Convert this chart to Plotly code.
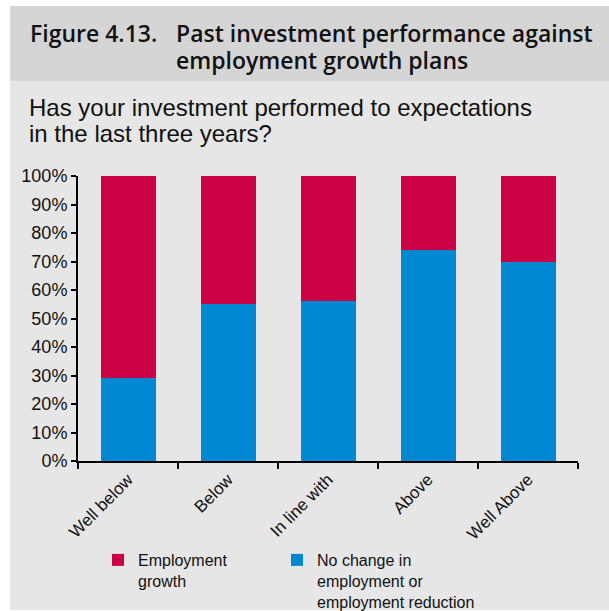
import plotly.graph_objects as go

# Survey answers (x categories) and the share of firms in each employment plan group
categories = ["Well below", "Below", "In line with", "Above", "Well Above"]
no_change_or_reduction = [29, 55, 56, 74, 70]
employment_growth = [71, 45, 44, 26, 30]

y_tick_values = [0, 10, 20, 30, 40, 50, 60, 70, 80, 90, 100]
y_tick_labels = [f"{v}%" for v in y_tick_values]

RED = "#CC0044"
BLUE = "#0089D2"
PANEL = "#E6E6E6"
BAND = "#D5D5D5"
TEXT = "#111111"

W, H = 609, 611
L, R, T, B = 78, 31, 176, 150
PW, PH = W - L - R, H - T - B


def px_x(x):
    return (x - L) / PW


def px_y(y):
    return (H - B - y) / PH


fig = go.Figure()
fig.add_trace(go.Bar(
    x=categories, y=no_change_or_reduction,
    name="No change in<br>employment or<br>employment reduction",
    marker=dict(color=BLUE, line=dict(width=0)),
    legend="legend2",
))
fig.add_trace(go.Bar(
    x=categories, y=employment_growth,
    name="Employment<br>growth",
    marker=dict(color=RED, line=dict(width=0)),
    legend="legend",
))

shapes = [
    # light grey panel behind everything
    dict(type="rect", xref="paper", yref="paper", layer="below",
         x0=px_x(10), x1=px_x(W + 2), y0=px_y(610), y1=px_y(6),
         fillcolor=PANEL, line=dict(width=0)),
    # darker title band
    dict(type="rect", xref="paper", yref="paper", layer="below",
         x0=px_x(10), x1=px_x(W + 2), y0=px_y(81), y1=px_y(6),
         fillcolor=BAND, line=dict(width=0)),
]

title_font = dict(family="Open Sans", size=23, color=TEXT, weight=600)
sub_font = dict(family="Liberation Sans, Arial", size=24, color=TEXT)

annotations = [
    dict(text="Figure 4.13.", xref="paper", yref="paper",
         x=px_x(29), y=px_y(33), xanchor="left", yanchor="middle",
         showarrow=False, font=title_font, borderpad=0),
    dict(text="Past investment performance against", xref="paper", yref="paper",
         x=px_x(175), y=px_y(33), xanchor="left", yanchor="middle",
         showarrow=False, font=title_font, borderpad=0),
    dict(text="employment growth plans", xref="paper", yref="paper",
         x=px_x(175), y=px_y(60), xanchor="left", yanchor="middle",
         showarrow=False, font=title_font, borderpad=0),
    dict(text="Has your investment performed to expectations", xref="paper", yref="paper",
         x=px_x(27), y=px_y(108), xanchor="left", yanchor="middle",
         showarrow=False, font=sub_font),
    dict(text="in the last three years?", xref="paper", yref="paper",
         x=px_x(27), y=px_y(133), xanchor="left", yanchor="middle",
         showarrow=False, font=sub_font),
]

axis_font = dict(family="Liberation Sans, Arial", size=17, color=TEXT)
legend_font = dict(family="Liberation Sans, Arial", size=16, color=TEXT)

fig.update_layout(
    width=W, height=H,
    margin=dict(l=L, r=R, t=T, b=B, pad=0, autoexpand=False),
    paper_bgcolor="white",
    plot_bgcolor="rgba(0,0,0,0)",
    barmode="stack",
    bargap=0.45,
    shapes=shapes,
    annotations=annotations,
    showlegend=True,
    legend=dict(
        x=px_x(98), y=px_y(543),
        xanchor="left", yanchor="top",
        valign="top", bgcolor="rgba(0,0,0,0)",
        font=legend_font, itemclick=False,
    ),
    legend2=dict(
        x=px_x(277), y=px_y(543),
        xanchor="left", yanchor="top",
        valign="top", bgcolor="rgba(0,0,0,0)",
        font=legend_font, itemclick=False,
    ),
    xaxis=dict(
        type="category", automargin=False,
        showline=True, linecolor="black", linewidth=2,
        ticks="outside", tickson="boundaries", ticklen=6, tickwidth=2, tickcolor="black",
        tickangle=-45, tickfont=axis_font,
        showgrid=False, zeroline=False,
    ),
    yaxis=dict(
        range=[0, 100], automargin=False,
        tickvals=y_tick_values, ticktext=y_tick_labels,
        showline=True, linecolor="black", linewidth=2,
        ticks="outside", ticklen=5, tickwidth=2, tickcolor="black",
        tickfont=dict(family="Liberation Sans, Arial", size=18, color=TEXT),
        showgrid=False, zeroline=False,
    ),
)

fig.write_html("out.html")
